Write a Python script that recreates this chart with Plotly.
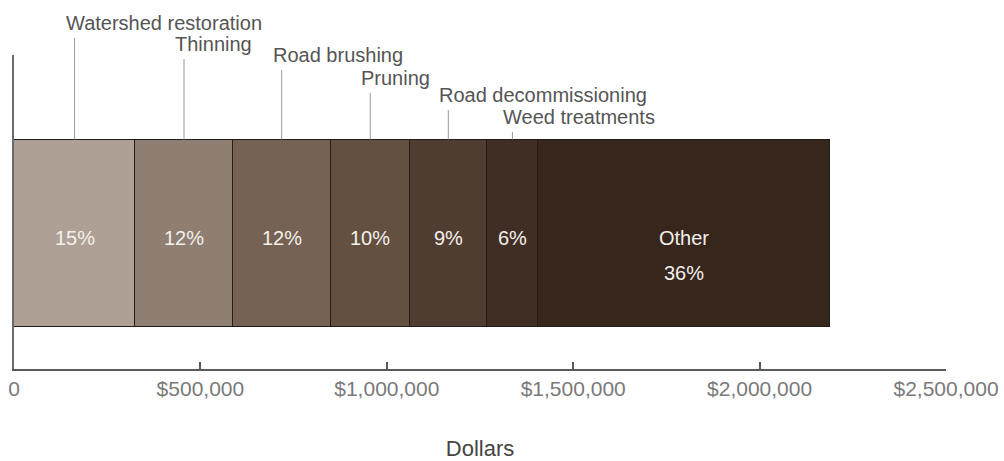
import plotly.graph_objects as go

# ---- data ----
categories = ["Watershed restoration", "Thinning", "Road brushing", "Pruning",
              "Road decommissioning", "Weed treatments", "Other"]
dollars = [325000, 262000, 262000, 213000, 206000, 138000, 784000]
colors = ["#aea095", "#8f7f72", "#766254", "#635041", "#4f3d31", "#402e24", "#36261c"]
tick_vals = [0, 500000, 1000000, 1500000, 2000000, 2500000]
tick_text = ["0", "$500,000", "$1,000,000", "$1,500,000", "$2,000,000", "$2,500,000"]
# heights (paper units) where each category's leader line ends
leader_tops = [1.054, 0.987, 0.952, 0.879, 0.825, 0.755, None]

FONT = "Liberation Sans, Arial, Helvetica, sans-serif"
BAR_Y = 0.4331
BAR_W = 0.5955
BAR_TOP = BAR_Y + BAR_W / 2

total = sum(dollars)
pcts = [round(100 * v / total) for v in dollars]

fig = go.Figure()
starts = []
acc = 0
for cat, val, col in zip(categories, dollars, colors):
    starts.append(acc)
    fig.add_trace(go.Bar(
        x=[val], y=[BAR_Y], width=[BAR_W], orientation="h", name=cat,
        marker=dict(color=col, line=dict(color="#231c17", width=1)),
        hoverinfo="x+name", showlegend=False,
    ))
    acc += val

centers = [s + v / 2 for s, v in zip(starts, dollars)]

annotations = []
shapes = []
for cat, c, p, top in zip(categories, centers, pcts, leader_tops):
    if top is not None:
        shapes.append(dict(type="line", xref="x", yref="paper",
                           x0=c, x1=c, y0=BAR_TOP, y1=top,
                           line=dict(color="#9a9a9a", width=1)))
        annotations.append(dict(x=c, y=top, xref="x", yref="paper",
                                text=cat, showarrow=False, xanchor="left",
                                yanchor="bottom", xshift=-11, yshift=2,
                                font=dict(family=FONT, size=20, color="#555555")))
        annotations.append(dict(x=c, y=0.417, xref="x", yref="y",
                                text=f"{p}%", showarrow=False,
                                font=dict(family=FONT, size=20, color="#f4f0ec")))
    else:
        annotations.append(dict(x=c, y=0.417, xref="x", yref="y",
                                text=cat, showarrow=False,
                                font=dict(family=FONT, size=20, color="#f4f0ec")))
        annotations.append(dict(x=c, y=0.3073, xref="x", yref="y",
                                text=f"{p}%", showarrow=False,
                                font=dict(family=FONT, size=20, color="#f4f0ec")))

fig.update_layout(
    barmode="stack",
    width=1004, height=461,
    margin=dict(l=14, r=58, t=55, b=92, autoexpand=False),
    paper_bgcolor="white", plot_bgcolor="white",
    bargap=0,
    shapes=shapes,
    annotations=annotations,
    xaxis=dict(range=[0, 2500000], tickvals=tick_vals, ticktext=tick_text,
               automargin=False,
               showgrid=False, zeroline=False, showline=True, linecolor="#5a5a5a",
               linewidth=2, ticks="inside", ticklen=7, tickwidth=2, tickcolor="#5a5a5a",
               tickfont=dict(family=FONT, size=21, color="#7a7a7a"),
               title=dict(text="Dollars", standoff=43,
                          font=dict(family=FONT, size=22, color="#444444"))),
    yaxis=dict(range=[0, 1], showgrid=False, zeroline=False, showline=True,
               automargin=False,
               linecolor="#6a6a6a", linewidth=2, showticklabels=False, ticks=""),
)

fig.write_html("out.html")
